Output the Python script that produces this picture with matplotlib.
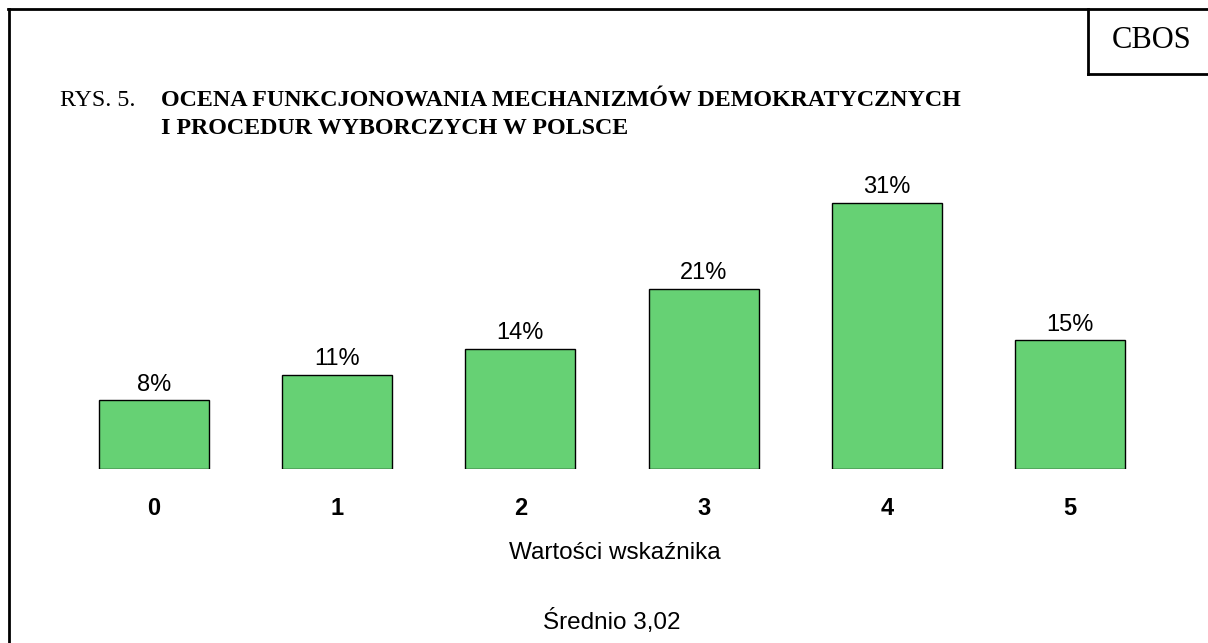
import matplotlib
matplotlib.use("Agg")
import matplotlib.pyplot as plt
from matplotlib.lines import Line2D

categories = ["0", "1", "2", "3", "4", "5"]
values = [8, 11, 14, 21, 31, 15]
labels = ["8%", "11%", "14%", "21%", "31%", "15%"]

W, H = 1208, 643
fig = plt.figure(figsize=(W / 100, H / 100), dpi=100)
fig.patch.set_facecolor("white")

def fx(px):
    return px / W

def fy(py):
    return 1 - py / H

y_top = 35
px_per = 8.57
ax = fig.add_axes([fx(62.5), fy(469), fx(1161.5) - fx(62.5), (y_top * px_per) / H])
x = list(range(len(categories)))
ax.bar(x, values, width=0.6, color="#66d174", edgecolor="black", linewidth=1.0)
ax.set_xlim(-0.5, 5.5)
ax.set_ylim(0, y_top)
for s in ax.spines.values():
    s.set_visible(False)
ax.set_yticks([])
ax.set_xticks(x)
ax.set_xticklabels(categories, fontfamily="Liberation Sans", fontweight="bold", fontsize=17)
ax.tick_params(axis="x", length=0, pad=20)
for xi, v, lab in zip(x, values, labels):
    ax.annotate(lab, (xi, v), xytext=(0, 3.5), textcoords="offset points",
                ha="center", va="bottom", fontfamily="Liberation Sans", fontsize=17)

fig.text(fx(615), fy(553), "Wartości wskaźnika", ha="center", va="center",
         fontfamily="Liberation Sans", fontsize=17.5)
fig.text(fx(612), fy(621), "Średnio 3,02", ha="center", va="center",
         fontfamily="Liberation Sans", fontsize=17.5)

# title
fig.text(fx(60), fy(100), "RYS. 5.", ha="left", va="center",
         fontfamily="Liberation Serif", fontsize=17.3)
fig.text(fx(161), fy(100), "OCENA FUNKCJONOWANIA MECHANIZMÓW DEMOKRATYCZNYCH",
         ha="left", va="center", fontfamily="Liberation Serif", fontweight="bold", fontsize=17.3)
fig.text(fx(161), fy(128), "I PROCEDUR WYBORCZYCH W POLSCE",
         ha="left", va="center", fontfamily="Liberation Serif", fontweight="bold", fontsize=17.3)

# CBOS box
fig.text(fx(1152), fy(41), "CBOS", ha="center", va="center",
         fontfamily="Liberation Serif", fontsize=22)

# frame lines
lw = 2
fig.add_artist(Line2D([fx(9), fx(9)], [fy(9), fy(645)], color="black", lw=lw, transform=fig.transFigure))
fig.add_artist(Line2D([fx(8), fx(1210)], [fy(9), fy(9)], color="black", lw=lw, transform=fig.transFigure))
fig.add_artist(Line2D([fx(1088), fx(1088)], [fy(9), fy(74)], color="black", lw=lw, transform=fig.transFigure))
fig.add_artist(Line2D([fx(1088), fx(1210)], [fy(74), fy(74)], color="black", lw=lw, transform=fig.transFigure))

fig.savefig("out.png", dpi=100, facecolor="white")
